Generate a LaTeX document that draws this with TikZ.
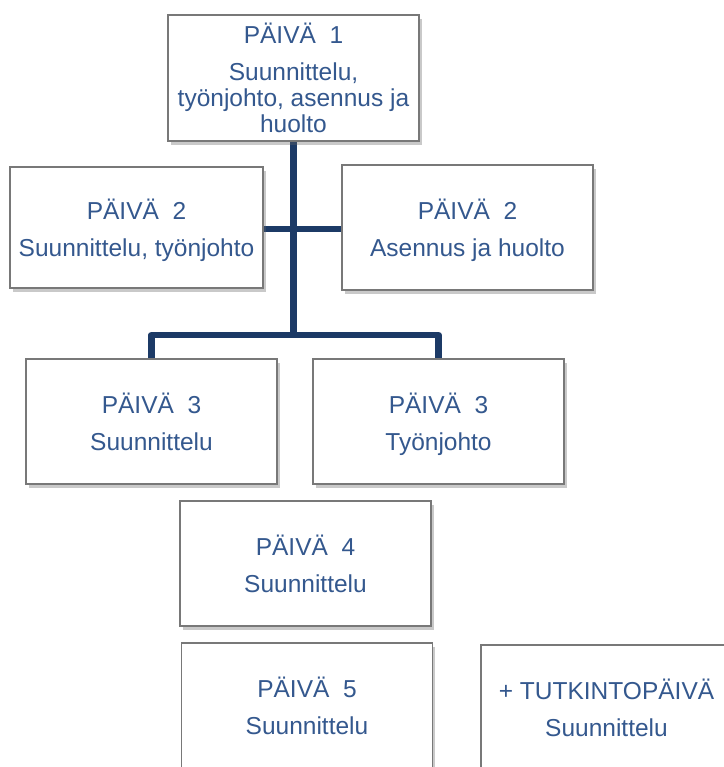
\documentclass[tikz,border=0pt]{standalone}
\usepackage{fontspec}
\setmainfont{Liberation Sans}
\usetikzlibrary{shadows,backgrounds}
\definecolor{txtblue}{RGB}{52,88,142}
\definecolor{linenavy}{RGB}{28,58,102}
\definecolor{boxgray}{RGB}{120,120,120}
\newcommand{\topstrut}{\rule{0pt}{28pt}}
\begin{document}
\begin{tikzpicture}[x=1pt,y=-1pt,
  daybox/.style={draw=boxgray, line width=1.3pt, fill=white,
    minimum width=251pt, minimum height=125pt, inner sep=0pt,
    align=center, text=txtblue, font=\fontsize{24.5}{26}\selectfont,
    drop shadow={shadow xshift=2.5pt, shadow yshift=-4pt, opacity=0.35, fill=black!60}},
  conn/.style={draw=linenavy, line width=6.5pt, line join=round}]
\useasboundingbox (0,0) rectangle (723,767);

\node[daybox, minimum height=126pt] (b1) at (293.5,78) {\topstrut PÄIVÄ\ \ 1\\[11pt]Suunnittelu,\\työnjohto, asennus ja\\huolto\strut};
\node[daybox, minimum width=253pt, minimum height=121pt] (b2l) at (136.5,227.5) {\topstrut PÄIVÄ\ \ 2\\[11pt]Suunnittelu, työnjohto\strut};
\node[daybox] (b2r) at (467.5,227.5) {\topstrut PÄIVÄ\ \ 2\\[11pt]Asennus ja huolto\strut};
\node[daybox] (b3l) at (151.5,421.5) {\topstrut PÄIVÄ\ \ 3\\[11pt]Suunnittelu\strut};
\node[daybox] (b3r) at (438.5,421.5) {\topstrut PÄIVÄ\ \ 3\\[11pt]Työnjohto\strut};
\node[daybox] (b4) at (305.5,563.5) {\topstrut PÄIVÄ\ \ 4\\[11pt]Suunnittelu\strut};
\node[daybox] (b5) at (307,705.5) {\topstrut PÄIVÄ\ \ 5\\[11pt]Suunnittelu\strut};
\node[daybox] (bt) at (606.5,707.5) {\topstrut + TUTKINTOPÄIVÄ\\[11pt]Suunnittelu\strut};

\coordinate (hub) at (293.5,335);
\begin{pgfonlayer}{background}
\fill[white] (0,0) rectangle (723,767);
\draw[conn] (b1.south) -- (hub);
\draw[conn] (b3l.north) |- (hub) -| (b3r.north);
\draw[conn] ([yshift=-1.5pt]b2l.east) -- ([yshift=-1.5pt]b2r.west);
\end{pgfonlayer}
\end{tikzpicture}
\end{document}
